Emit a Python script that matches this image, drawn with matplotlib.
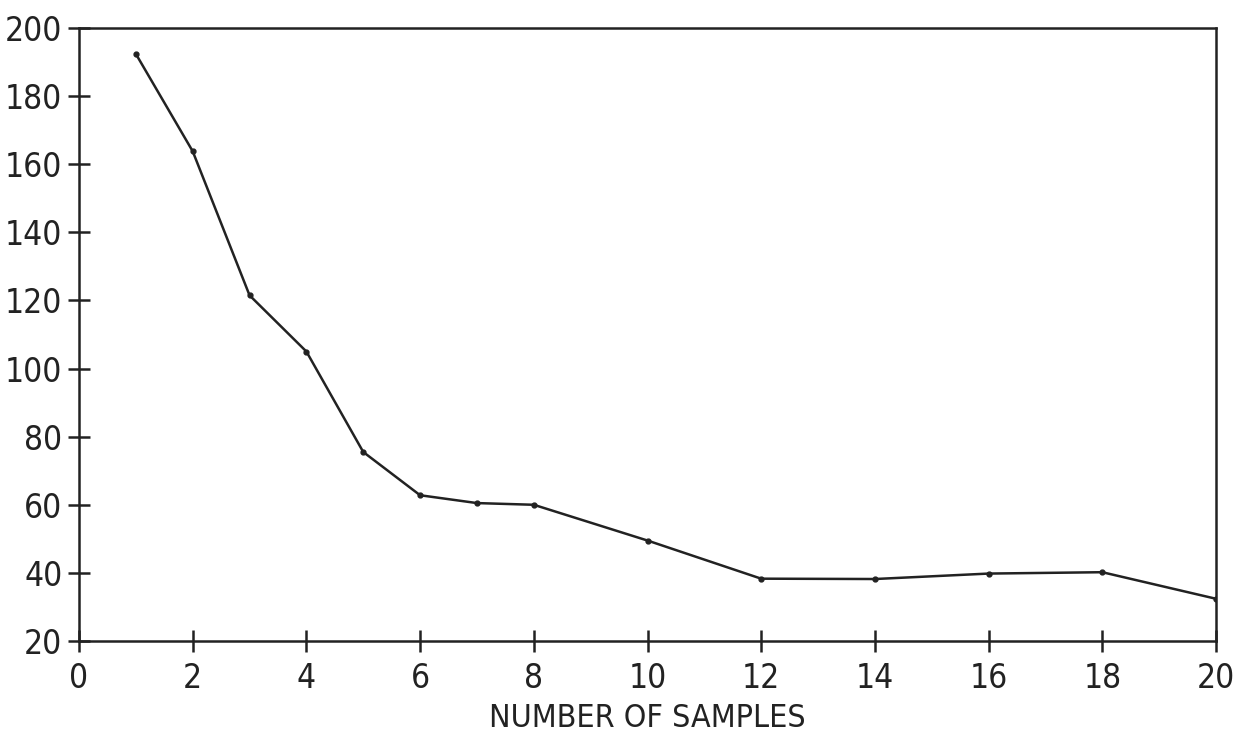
import matplotlib
matplotlib.use("Agg")
import matplotlib.pyplot as plt

samples = [1, 2, 3, 4, 5, 6, 7, 8, 10, 12, 14, 16, 18, 20]
values = [192.4, 163.8, 121.5, 105.0, 75.5, 62.8, 60.5, 60.0, 49.5, 38.3, 38.2, 39.8, 40.2, 32.4]
xticks = list(range(0, 21, 2))
yticks = list(range(20, 201, 20))
xlabel = "NUMBER OF SAMPLES"

plt.rcParams['font.family'] = ['DejaVu Sans']
fig = plt.figure(figsize=(12.48, 7.36), dpi=100)
ax = fig.add_axes([79/1248, 1 - 641/736, (1216-79)/1248, (641-28)/736])
ax.plot(samples, values, color='#222222', lw=1.8, marker='o', ms=3.5)
ax.set_xlim(0, 20)
ax.set_ylim(20, 200)
ax.set_xticks(xticks)
ax.set_yticks(yticks)
fs = 24
ax.set_xticklabels([str(t) for t in xticks], fontsize=fs, fontstretch='condensed', color='#222222')
ax.set_yticklabels([str(t) for t in yticks], fontsize=fs, fontstretch='condensed', color='#222222')
ax.tick_params(direction='inout', length=16, width=1.8, color='#222222', pad=4)
ax.tick_params(axis='x', pad=7)
for s in ax.spines.values():
    s.set_linewidth(1.8)
    s.set_color('#222222')
ax.set_xlabel(xlabel, fontsize=23, fontstretch='condensed', color='#222222', labelpad=6)
fig.savefig("out.png", dpi=100)
